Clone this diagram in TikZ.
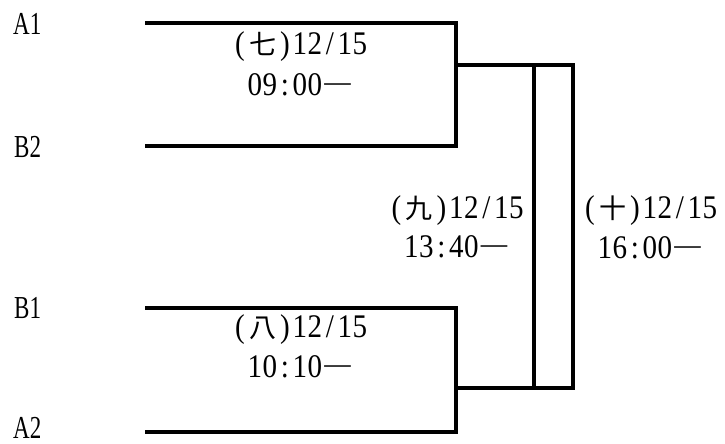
\documentclass[tikz,border=0pt]{standalone}
\usepackage{fontspec}
\setmainfont{Liberation Serif}
\newfontfamily\mincho[FakeStretch=0.88]{Liberation Serif}
\newfontfamily\narrow[FakeStretch=0.72]{Liberation Serif}
\newfontfamily\cjk{Noto Sans CJK JP}
\makeatletter
\newcommand\mono[1]{\mono@loop#1\@nil}
\def\mono@loop#1{\ifx#1\@nil\else\makebox[15pt]{#1}\expandafter\mono@loop\fi}
\makeatother
\newcommand\fw[1]{\makebox[30pt]{\fontsize{27}{30}\selectfont\cjk #1}}
\newcommand\dash{\makebox[30pt]{\raisebox{4pt}{\fontsize{30}{30}\selectfont —}}}
\begin{document}
\begin{tikzpicture}[x=1pt,y=-1pt,
  txt/.style={inner sep=0pt, font=\fontsize{33}{36}\selectfont\mincho},
  lbl/.style={inner sep=0pt, font=\fontsize{32}{36}\selectfont\narrow, anchor=base west, text depth=0pt},
  dt/.style={txt, anchor=base},
  bk/.style={line width=4pt, line join=miter, black}]
\useasboundingbox (0,0) rectangle (725,444);

% team labels
\node[lbl] (A1) at (13,35) {A1};
\node[lbl] (B2) at (14,157) {B2};
\node[lbl] (B1) at (14,318) {B1};
\node[lbl] (A2) at (13,438) {A2};

% bracket coordinates
\coordinate (a1s) at (145,23);
\coordinate (a1e) at (456,23);
\coordinate (b2s) at (145,146);
\coordinate (b2e) at (456,146);
\coordinate (uo)  at (456,65);
\coordinate (b1s) at (145,308);
\coordinate (b1e) at (456,308);
\coordinate (a2s) at (145,432);
\coordinate (a2e) at (456,432);
\coordinate (lo)  at (456,388);
\coordinate (mt)  at (534,65);
\coordinate (mb)  at (534,388);
\coordinate (rt)  at (573,65);
\coordinate (rb)  at (573,388);

\draw[bk] (a1s) -- (a1e) -- (b2e) -- (b2s);
\draw[bk] (b1s) -- (b1e) -- (a2e) -- (a2s);
\draw[bk] (uo) -- (rt) -- (rb) -- (lo);
\draw[bk] (mt) -- (mb);

% match labels
\node[dt] (m7a) at (300,55) {\mono{(}\fw{七}\mono{)12/15}};
\node[dt] (m7b) at (300,95) {\mono{09:00}\dash};
\node[dt] (m8a) at (300,337) {\mono{(}\fw{八}\mono{)12/15}};
\node[dt] (m8b) at (300,377) {\mono{10:10}\dash};
\node[dt] (m9a) at (456.5,218) {\mono{(}\fw{九}\mono{)12/15}};
\node[dt] (m9b) at (456.5,257) {\mono{13:40}\dash};
\node[dt] (m10a) at (650,218) {\mono{(}\fw{十}\mono{)12/15}};
\node[dt] (m10b) at (650,258) {\mono{16:00}\dash};
\end{tikzpicture}
\end{document}
